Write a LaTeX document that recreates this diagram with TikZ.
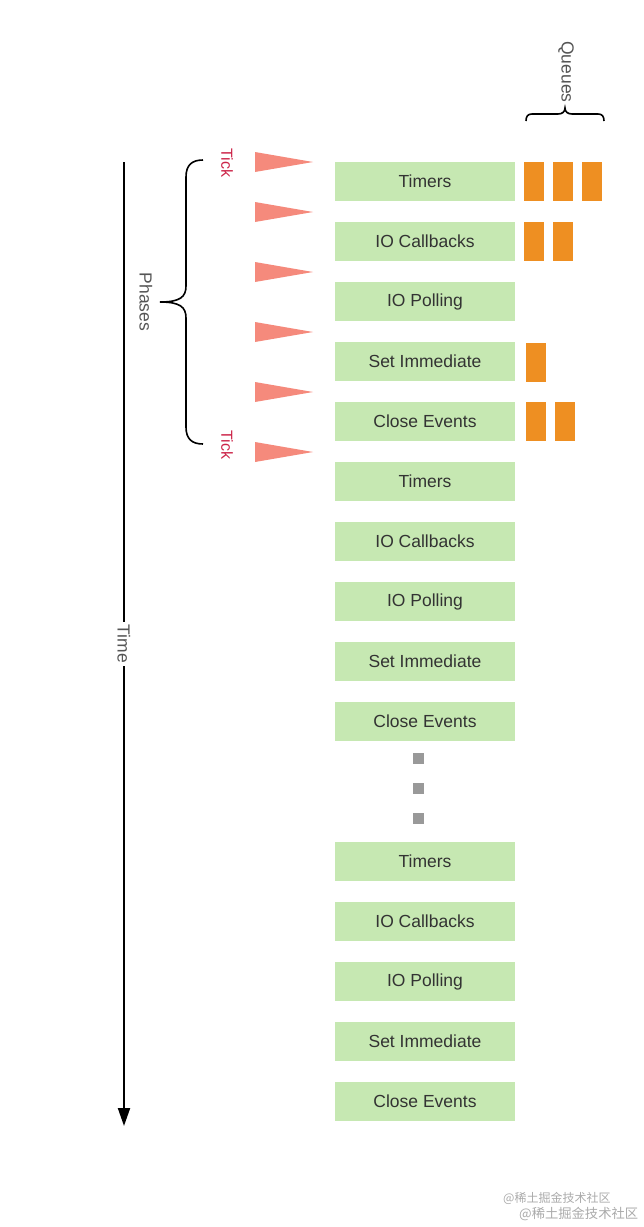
\documentclass[tikz,border=0pt]{standalone}
\usepackage{fontspec}
\setmainfont{Liberation Sans}
\newfontfamily\cjk{Noto Sans CJK SC}
\usetikzlibrary{arrows.meta}
\definecolor{phasegreen}{HTML}{C6E8B2}
\definecolor{queueorange}{HTML}{EE8F22}
\definecolor{tickred}{HTML}{F58A7C}
\definecolor{ticktext}{HTML}{CC2549}
\definecolor{labelgray}{HTML}{555555}
\definecolor{boxtext}{HTML}{333333}
\definecolor{dotgray}{HTML}{999999}
\definecolor{wmgray}{HTML}{AAAAAA}
\tikzset{
  phase/.style={fill=phasegreen, draw=none, minimum width=180pt, minimum height=39pt,
    inner sep=0pt, text=boxtext, font=\fontsize{17.5}{20}\selectfont},
  qitem/.style={fill=queueorange, draw=none, minimum width=20pt, minimum height=39pt, inner sep=0pt},
  dotsq/.style={fill=dotgray, draw=none, minimum size=11pt, inner sep=0pt},
  ticklabel/.style={rotate=-90, text=ticktext, font=\fontsize{16}{18}\selectfont, inner sep=1pt},
  sidelabel/.style={rotate=-90, text=labelgray, font=\fontsize{17.5}{20}\selectfont, inner sep=1pt},
  bracepath/.style={draw=black, line width=1.6pt},
  tickmark/.style={fill=tickred, draw=none},
  wm/.style={anchor=west, text=wmgray, inner sep=0pt}
}
\begin{document}
\begin{tikzpicture}[x=1pt,y=-1pt]
\useasboundingbox (0,0) rectangle (644,1227);

% time axis
\coordinate (tstart) at (124,162);
\coordinate (tend) at (124,1126);
\draw[line width=2pt, -{Triangle[length=18pt,width=12pt]}] (tstart) -- (tend);
\node[sidelabel, fill=white, inner sep=3pt] (time) at (124,644) {Time};

% phases brace
\draw[bracepath] (203,160) .. controls (192,160) and (186,165) .. (186,177) -- (186,286)
  .. controls (186,297) and (180,302) .. (160,302)
  .. controls (180,302) and (186,307) .. (186,318) -- (186,427)
  .. controls (186,439) and (192,444) .. (203,444);
\node[sidelabel] (phases) at (146,302) {Phases};

% tick labels
\node[ticklabel] (tick1) at (227,163) {Tick};
\node[ticklabel] (tick2) at (227,445) {Tick};

% tick triangles
\foreach \yy in {162,212,272,332,392,452}
  \fill[tickmark] (255,\yy-10) -- (313,\yy) -- (255,\yy+10) -- cycle;

% phase boxes, first group
\foreach \lbl [count=\i from 0] in {Timers,IO Callbacks,IO Polling,Set Immediate,Close Events,Timers,IO Callbacks,IO Polling,Set Immediate,Close Events}
  \node[phase] (p\i) at (425,181.5+60*\i) {\lbl};
% last group
\foreach \lbl [count=\i from 10] in {Timers,IO Callbacks,IO Polling,Set Immediate,Close Events}
  \node[phase] (p\i) at (425,861.5+60*\i-600) {\lbl};

% continuation dots
\node[dotsq] (d1) at (418,758) {};
\node[dotsq] (d2) at (418,788) {};
\node[dotsq] (d3) at (418,818) {};

% queues
\node[qitem] (q11) at (534,181.5) {};
\node[qitem] (q12) at (563,181.5) {};
\node[qitem] (q13) at (592,181.5) {};
\node[qitem] (q21) at (534,241.5) {};
\node[qitem] (q22) at (563,241.5) {};
\node[qitem] (q41) at (536,362.5) {};
\node[qitem] (q51) at (536,421.5) {};
\node[qitem] (q52) at (565,421.5) {};

% queues brace
\draw[bracepath] (526,121) .. controls (526,116) and (528,114) .. (532,114) -- (558,114)
  .. controls (562,114) and (565,112) .. (565,108)
  .. controls (565,112) and (568,114) .. (572,114) -- (598,114)
  .. controls (602,114) and (604,116) .. (604,121);
\node[sidelabel] (queues) at (566,72) {Queues};

% watermark
\node[wm, font=\cjk\fontsize{12}{14}\selectfont] (wm1) at (503,1198) {@稀土掘金技术社区};
\node[wm, font=\cjk\fontsize{13.3}{15}\selectfont] (wm2) at (519,1214) {@稀土掘金技术社区};
\end{tikzpicture}
\end{document}
